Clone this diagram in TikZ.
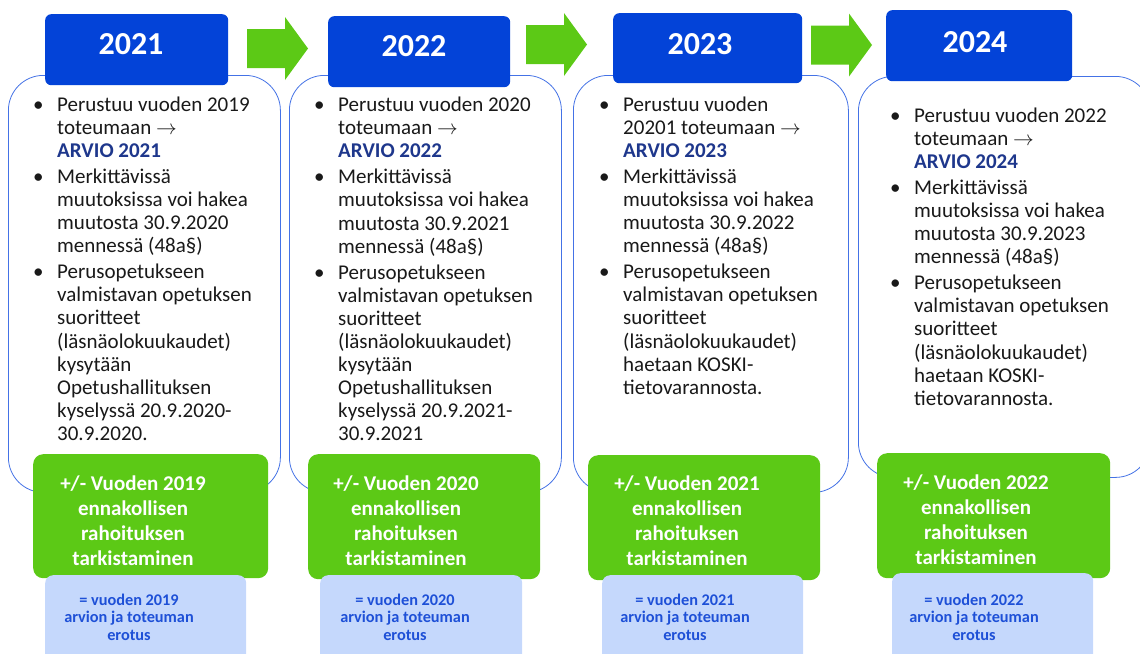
\documentclass[tikz,border=0pt]{standalone}
\usepackage{fontspec}
\setmainfont{Carlito}

\definecolor{yearblue}{RGB}{3,67,216}
\definecolor{arrowgreen}{RGB}{92,201,22}
\definecolor{paleblue}{RGB}{197,216,252}
\definecolor{lineblue}{RGB}{68,114,230}
\definecolor{arvioblue}{RGB}{30,55,140}
\definecolor{diffblue}{RGB}{30,80,215}
\definecolor{bodytext}{RGB}{25,25,25}

\newcommand{\arvio}[1]{\textbf{\textcolor{arvioblue}{ARVIO #1}}}
\newcommand{\toarrow}{\ensuremath{\rightarrow}}
% green block arrow: left end x, middle y
\newcommand{\blockarrow}[2]{%
  \fill[arrowgreen] (#1,#2-19.5) -- (#1+38,#2-19.5) -- (#1+38,#2-31.5)
    -- (#1+61,#2) -- (#1+38,#2+31.5) -- (#1+38,#2+19.5) -- (#1,#2+19.5) -- cycle;}

\tikzset{
  panel/.style={draw=lineblue, line width=0.8pt, fill=white,
    rounded corners=35pt, anchor=north west, inner sep=0pt},
  yearbox/.style={fill=yearblue, rounded corners=6pt, anchor=north west, inner sep=0pt},
  yeartext/.style={text=white, font=\fontsize{32}{38}\selectfont\bfseries, inner sep=0pt},
  checkbox/.style={fill=arrowgreen, rounded corners=10pt, anchor=north west, inner sep=0pt},
  checktext/.style={text=white, font=\fontsize{21}{25}\selectfont\bfseries,
    align=center, anchor=base, inner sep=0pt},
  diffbox/.style={fill=paleblue, rounded corners=8pt, anchor=north west, inner sep=0pt},
  difftext/.style={text=diffblue, font=\fontsize{16.3}{17.5}\selectfont\bfseries,
    align=center, anchor=base, inner sep=0pt},
  listtext/.style={text=bodytext, font=\fontsize{21}{23.1}\selectfont,
    anchor=base west, inner sep=0pt}
}

\begin{document}
\begin{tikzpicture}[x=1pt, y=-1pt]
  \useasboundingbox (0,0) rectangle (1140,653);

  % arrows between the years
  \blockarrow{247}{48.5}
  \blockarrow{526}{44.5}
  \blockarrow{811}{45}

  % white panels
  \node[panel, minimum width=272pt, minimum height=417pt] (p21) at (8,75) {};
  \node[panel, minimum width=272pt, minimum height=417pt] (p22) at (289,75) {};
  \node[panel, minimum width=275pt, minimum height=417pt] (p23) at (573,75) {};
  \node[panel, minimum width=292pt, minimum height=401pt] (p24) at (858,76) {};

  % year boxes
  \node[yearbox, minimum width=183pt, minimum height=71pt] (y21) at (45,14) {};
  \node[yearbox, minimum width=182pt, minimum height=71pt] (y22) at (328,16) {};
  \node[yearbox, minimum width=189pt, minimum height=70pt] (y23) at (613,13) {};
  \node[yearbox, minimum width=186pt, minimum height=71pt] (y24) at (886,10) {};
  \node[yeartext] (t21) at (131,44) {2021};
  \node[yeartext] (t22) at (414,46.5) {2022};
  \node[yeartext] (t23) at (700,44) {2023};
  \node[yeartext] (t24) at (975,42.5) {2024};

  % bullet lists
  \node[listtext] (l21) at (33,111) {\begin{tabular}[t]{@{}p{24pt}@{}l@{}}
    \textbullet & Perustuu vuoden 2019\\
      & toteumaan \toarrow\\
      & \arvio{2021}\\[3pt]
    \textbullet & Merkittävissä\\
      & muutoksissa voi hakea\\
      & muutosta 30.9.2020\\
      & mennessä (48a§)\\[3pt]
    \textbullet & Perusopetukseen\\
      & valmistavan opetuksen\\
      & suoritteet\\
      & (läsnäolokuukaudet)\\
      & kysytään\\
      & Opetushallituksen\\
      & kyselyssä 20.9.2020-\\
      & 30.9.2020.
    \end{tabular}};
  \node[listtext] (l22) at (314,111.5) {\begin{tabular}[t]{@{}p{24pt}@{}l@{}}
    \textbullet & Perustuu vuoden 2020\\
      & toteumaan \toarrow\\
      & \arvio{2022}\\[3pt]
    \textbullet & Merkittävissä\\
      & muutoksissa voi hakea\\
      & muutosta 30.9.2021\\
      & mennessä (48a§)\\[3pt]
    \textbullet & Perusopetukseen\\
      & valmistavan opetuksen\\
      & suoritteet\\
      & (läsnäolokuukaudet)\\
      & kysytään\\
      & Opetushallituksen\\
      & kyselyssä 20.9.2021-\\
      & 30.9.2021
    \end{tabular}};
  \node[listtext] (l23) at (599,111) {\begin{tabular}[t]{@{}p{24pt}@{}l@{}}
    \textbullet & Perustuu vuoden\\
      & 20201 toteumaan \toarrow\\
      & \arvio{2023}\\[3pt]
    \textbullet & Merkittävissä\\
      & muutoksissa voi hakea\\
      & muutosta 30.9.2022\\
      & mennessä (48a§)\\[3pt]
    \textbullet & Perusopetukseen\\
      & valmistavan opetuksen\\
      & suoritteet\\
      & (läsnäolokuukaudet)\\
      & haetaan KOSKI-\\
      & tietovarannosta.
    \end{tabular}};
  \node[listtext] (l24) at (890,122) {\begin{tabular}[t]{@{}p{24pt}@{}l@{}}
    \textbullet & Perustuu vuoden 2022\\
      & toteumaan \toarrow\\
      & \arvio{2024}\\[3pt]
    \textbullet & Merkittävissä\\
      & muutoksissa voi hakea\\
      & muutosta 30.9.2023\\
      & mennessä (48a§)\\[3pt]
    \textbullet & Perusopetukseen\\
      & valmistavan opetuksen\\
      & suoritteet\\
      & (läsnäolokuukaudet)\\
      & haetaan KOSKI-\\
      & tietovarannosta.
    \end{tabular}};

  % green check boxes (text placed by its last baseline)
  \node[checkbox, minimum width=235pt, minimum height=124pt] (c21) at (33,454) {};
  \node[checkbox, minimum width=232pt, minimum height=125pt] (c22) at (308,454) {};
  \node[checkbox, minimum width=232pt, minimum height=125pt] (c23) at (588,455) {};
  \node[checkbox, minimum width=233pt, minimum height=125pt] (c24) at (877,453) {};
  \node[checktext] (ct21) at (133,565) {+/- Vuoden 2019\\ennakollisen\\rahoituksen\\tarkistaminen};
  \node[checktext] (ct22) at (406,565) {+/- Vuoden 2020\\ennakollisen\\rahoituksen\\tarkistaminen};
  \node[checktext] (ct23) at (687,565) {+/- Vuoden 2021\\ennakollisen\\rahoituksen\\tarkistaminen};
  \node[checktext] (ct24) at (976,564) {+/- Vuoden 2022\\ennakollisen\\rahoituksen\\tarkistaminen};

  % pale difference boxes
  \node[diffbox, minimum width=201pt, minimum height=95pt] (d21) at (45,575) {};
  \node[diffbox, minimum width=202pt, minimum height=95pt] (d22) at (320,575) {};
  \node[diffbox, minimum width=201pt, minimum height=95pt] (d23) at (602,575) {};
  \node[diffbox, minimum width=201pt, minimum height=97pt] (d24) at (892,573) {};
  \node[difftext] (dt21) at (129,640) {= vuoden 2019\\arvion ja toteuman\\erotus};
  \node[difftext] (dt22) at (405,640) {= vuoden 2020\\arvion ja toteuman\\erotus};
  \node[difftext] (dt23) at (685,640) {= vuoden 2021\\arvion ja toteuman\\erotus};
  \node[difftext] (dt24) at (974,640) {= vuoden 2022\\arvion ja toteuman\\erotus};
\end{tikzpicture}
\end{document}
